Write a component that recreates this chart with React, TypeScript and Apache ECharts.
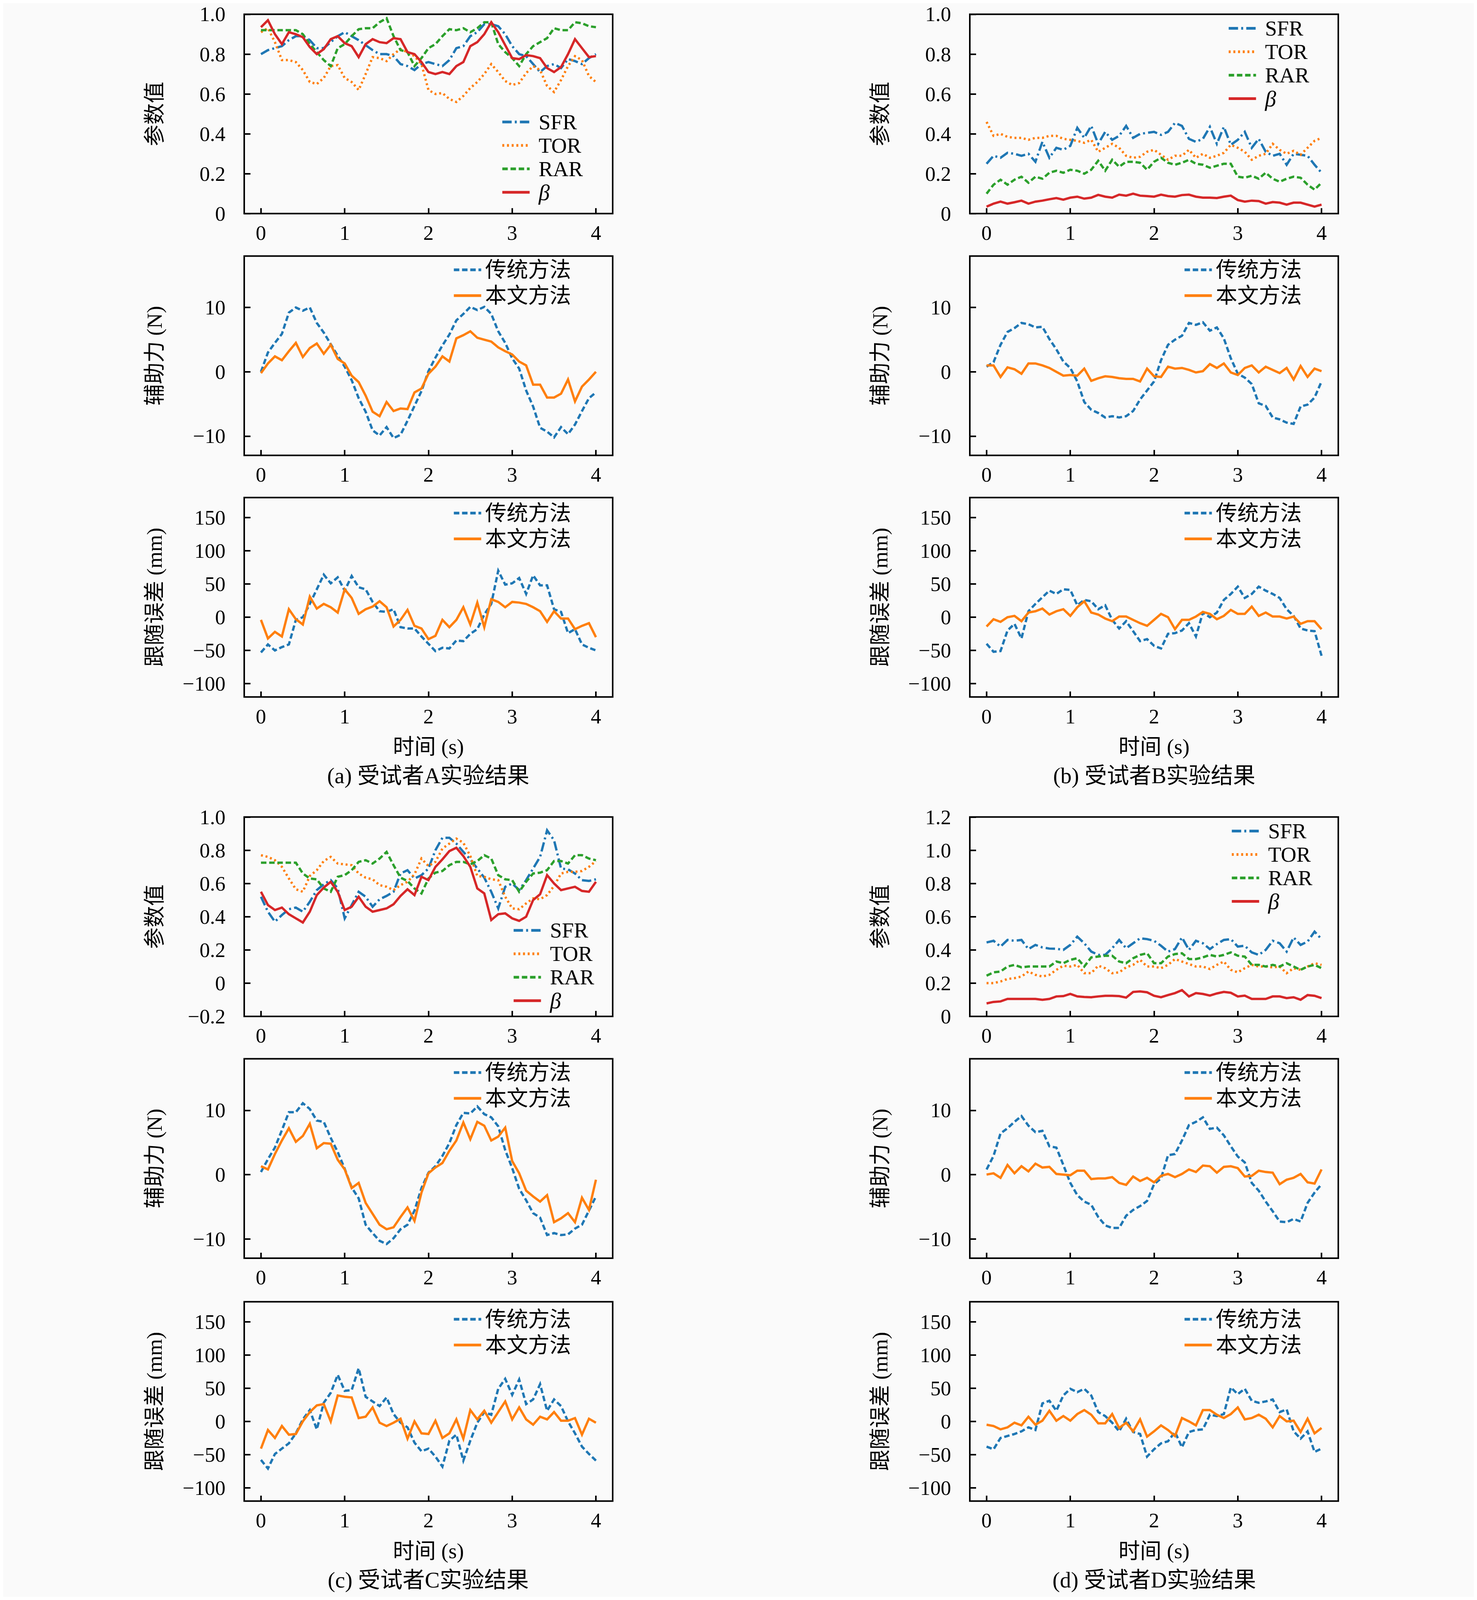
import React, { useEffect, useRef } from "react";
import * as echarts from "echarts";

// ---------- data ----------
const T = [0, 0.0833, 0.1667, 0.25, 0.3333, 0.4167, 0.5, 0.5833, 0.6667, 0.75, 0.8333, 0.9167, 1, 1.0833, 1.1667, 1.25, 1.3333, 1.4167, 1.5, 1.5833, 1.6667, 1.75, 1.8333, 1.9167, 2, 2.0833, 2.1667, 2.25, 2.3333, 2.4167, 2.5, 2.5833, 2.6667, 2.75, 2.8333, 2.9167, 3, 3.0833, 3.1667, 3.25, 3.3333, 3.4167, 3.5, 3.5833, 3.6667, 3.75, 3.8333, 3.9167, 4];
const X_TICKS = [0, 1, 2, 3, 4];

const PARAM_NAMES = ["SFR", "TOR", "RAR", "β"];
const METHOD_NAMES = ["传统方法", "本文方法"];

// subject A
const aSFR = [0.80, 0.82, 0.83, 0.84, 0.87, 0.89, 0.89, 0.87, 0.83, 0.83, 0.86, 0.89, 0.91, 0.89, 0.87, 0.845, 0.82, 0.80, 0.80, 0.79, 0.75, 0.74, 0.72, 0.75, 0.76, 0.75, 0.74, 0.77, 0.83, 0.84, 0.89, 0.91, 0.95, 0.95, 0.94, 0.90, 0.84, 0.80, 0.79, 0.75, 0.71, 0.74, 0.75, 0.73, 0.775, 0.765, 0.75, 0.78, 0.80];
const aTOR = [0.91, 0.93, 0.86, 0.77, 0.77, 0.76, 0.72, 0.66, 0.65, 0.68, 0.74, 0.745, 0.68, 0.66, 0.62, 0.70, 0.785, 0.78, 0.765, 0.80, 0.825, 0.81, 0.79, 0.75, 0.62, 0.60, 0.605, 0.575, 0.56, 0.59, 0.63, 0.66, 0.70, 0.75, 0.71, 0.665, 0.645, 0.655, 0.705, 0.74, 0.72, 0.64, 0.61, 0.67, 0.74, 0.79, 0.77, 0.69, 0.66];
const aRAR = [0.92, 0.92, 0.92, 0.92, 0.92, 0.92, 0.90, 0.85, 0.81, 0.77, 0.74, 0.83, 0.85, 0.89, 0.925, 0.93, 0.93, 0.96, 0.98, 0.89, 0.82, 0.81, 0.74, 0.78, 0.83, 0.85, 0.89, 0.925, 0.92, 0.93, 0.91, 0.93, 0.96, 0.96, 0.85, 0.81, 0.78, 0.74, 0.80, 0.84, 0.86, 0.88, 0.93, 0.92, 0.92, 0.96, 0.955, 0.94, 0.935];
const aBeta = [0.935, 0.97, 0.90, 0.85, 0.91, 0.90, 0.885, 0.835, 0.80, 0.825, 0.875, 0.89, 0.855, 0.84, 0.785, 0.85, 0.875, 0.86, 0.855, 0.88, 0.875, 0.81, 0.80, 0.76, 0.71, 0.70, 0.71, 0.70, 0.74, 0.76, 0.84, 0.86, 0.90, 0.96, 0.91, 0.845, 0.78, 0.775, 0.795, 0.79, 0.78, 0.73, 0.71, 0.735, 0.80, 0.875, 0.83, 0.785, 0.79];
const aForceOld = [0, 3.0, 4.5, 5.9, 9.2, 10.0, 9.5, 10.0, 7.6, 6.1, 4.3, 2.5, 0.8, -1.3, -4.1, -6.2, -9.1, -9.9, -8.6, -10.3, -9.8, -7.6, -5.3, -3.0, 0.1, 2.2, 4.1, 5.8, 8.0, 9.0, 10.1, 9.6, 10.1, 9.0, 6.3, 4.5, 2.1, 0.5, -2.9, -5.4, -8.7, -9.3, -10.2, -8.6, -9.7, -8.2, -6.1, -4.1, -3.2];
const aForceNew = [-0.2, 1.3, 2.4, 1.8, 3.2, 4.5, 2.3, 3.7, 4.4, 2.8, 4.2, 2.0, 1.3, -0.6, -1.6, -3.7, -6.2, -6.9, -4.7, -6.1, -5.7, -5.8, -3.2, -2.6, -0.3, 0.8, 2.4, 1.6, 5.2, 5.7, 6.3, 5.3, 5.0, 4.7, 3.8, 3.2, 2.7, 1.6, 1.0, -2.0, -2.0, -4.0, -4.0, -3.4, -1.2, -4.6, -2.3, -1.2, 0];
const aErrOld = [-53, -41, -50, -45, -41, -4, 0, 20, 42, 64, 51, 60, 40, 62, 45, 42, 23, 9, 8, 12, -15, -17, -17, -29, -40, -51, -46, -47, -35, -36, -25, -18, 4, 20, 70, 49, 51, 59, 35, 63, 48, 48, 12, 8, -24, -18, -41, -46, -50];
const aErrNew = [-4, -32, -22, -29, 12, -3, -11, 31, 13, 20, 15, 7, 42, 29, 5, 12, 16, 24, 15, -14, -4, 11, -13, -17, -33, -28, -4, -15, -4, 15, -11, 22, -15, 27, 23, 15, 23, 22, 20, 15, 9, -7, 9, -2, -2, -18, -13, -9, -30];

// subject B
const bSFR = [0.25, 0.29, 0.28, 0.305, 0.30, 0.29, 0.30, 0.26, 0.36, 0.28, 0.33, 0.32, 0.34, 0.43, 0.38, 0.44, 0.35, 0.41, 0.37, 0.39, 0.44, 0.38, 0.40, 0.405, 0.41, 0.395, 0.41, 0.455, 0.44, 0.375, 0.36, 0.375, 0.435, 0.35, 0.435, 0.345, 0.37, 0.41, 0.33, 0.375, 0.31, 0.29, 0.30, 0.245, 0.30, 0.295, 0.29, 0.245, 0.205];
const bTOR = [0.46, 0.39, 0.40, 0.385, 0.38, 0.38, 0.37, 0.38, 0.38, 0.39, 0.39, 0.375, 0.37, 0.365, 0.355, 0.37, 0.31, 0.33, 0.35, 0.33, 0.29, 0.28, 0.285, 0.31, 0.32, 0.295, 0.27, 0.29, 0.29, 0.32, 0.28, 0.30, 0.28, 0.29, 0.305, 0.345, 0.33, 0.31, 0.27, 0.29, 0.30, 0.35, 0.32, 0.30, 0.315, 0.295, 0.33, 0.365, 0.38];
const bRAR = [0.10, 0.145, 0.17, 0.145, 0.17, 0.185, 0.155, 0.185, 0.175, 0.205, 0.215, 0.205, 0.22, 0.215, 0.20, 0.22, 0.265, 0.215, 0.27, 0.235, 0.26, 0.26, 0.255, 0.22, 0.26, 0.28, 0.255, 0.245, 0.255, 0.27, 0.25, 0.245, 0.23, 0.24, 0.25, 0.25, 0.185, 0.18, 0.19, 0.175, 0.205, 0.175, 0.16, 0.175, 0.185, 0.18, 0.145, 0.12, 0.155];
const bBeta = [0.035, 0.05, 0.06, 0.05, 0.057, 0.065, 0.05, 0.06, 0.065, 0.072, 0.078, 0.07, 0.08, 0.085, 0.075, 0.08, 0.094, 0.085, 0.08, 0.095, 0.09, 0.10, 0.09, 0.088, 0.085, 0.095, 0.088, 0.085, 0.093, 0.095, 0.085, 0.08, 0.08, 0.078, 0.085, 0.09, 0.068, 0.06, 0.065, 0.063, 0.05, 0.058, 0.055, 0.045, 0.055, 0.055, 0.045, 0.035, 0.045];
const bForceOld = [0.8, 1.5, 4.2, 6.2, 6.8, 7.6, 7.4, 6.9, 7.0, 5.1, 3.5, 1.6, 0.6, -1.5, -4.7, -5.9, -6.4, -7.1, -6.9, -7.1, -6.9, -6.1, -4.3, -2.9, -1.5, 1.8, 4.2, 5.0, 5.6, 7.6, 7.3, 7.7, 6.4, 6.9, 5.2, 2.1, -0.3, -0.9, -1.9, -4.9, -5.3, -7.1, -7.4, -7.9, -8.1, -5.4, -5.1, -4.0, -1.5];
const bForceNew = [1, 1, -0.8, 0.7, 0.4, -0.3, 1.3, 1.3, 1, 0.6, 0, -0.6, -0.5, -0.6, 0.5, -1.4, -1, -0.7, -0.8, -1, -1.1, -1.1, -1.5, 0.5, -0.7, -0.8, 0.8, 0.5, 0.6, 0.3, -0.1, 0.1, 1.2, 0.6, 1.3, -0.1, -0.5, 0.6, 1, -0.1, 0.8, 0.3, -0.2, 0.6, -1.2, 0.9, -0.8, 0.5, 0.1];
const bErrOld = [-40, -52, -51, -20, -10, -32, 9, 20, 30, 40, 35, 42, 41, 18, 26, 24, 12, 18, -4, -17, -6, -21, -36, -33, -43, -47, -25, -24, -20, -9, -29, 7, 0, 7, 26, 35, 46, 29, 35, 46, 40, 35, 29, 12, 2, -17, -20, -21, -58];
const bErrNew = [-14, -3, -7, 0, 2, -6, 7, 9, 13, 4, 9, 12, 2, 15, 24, 7, 4, -2, -6, 1, 1, -4, -9, -13, -4, 5, 0, -18, -4, -4, 1, 8, 5, -3, 2, 11, 5, 5, 16, 2, 7, 1, 1, -2, 1, -10, -6, -6, -18];

// subject C
const cSFR = [0.52, 0.43, 0.37, 0.41, 0.445, 0.455, 0.43, 0.49, 0.56, 0.595, 0.62, 0.57, 0.39, 0.47, 0.55, 0.52, 0.46, 0.505, 0.525, 0.55, 0.66, 0.68, 0.63, 0.65, 0.69, 0.80, 0.875, 0.875, 0.84, 0.79, 0.745, 0.69, 0.635, 0.55, 0.45, 0.58, 0.60, 0.56, 0.62, 0.69, 0.76, 0.92, 0.86, 0.69, 0.685, 0.66, 0.62, 0.615, 0.625];
const cTOR = [0.77, 0.76, 0.74, 0.70, 0.63, 0.565, 0.55, 0.645, 0.68, 0.735, 0.76, 0.72, 0.715, 0.71, 0.66, 0.635, 0.625, 0.59, 0.58, 0.56, 0.59, 0.61, 0.655, 0.75, 0.705, 0.73, 0.81, 0.84, 0.87, 0.845, 0.765, 0.645, 0.64, 0.625, 0.62, 0.52, 0.45, 0.445, 0.48, 0.51, 0.505, 0.53, 0.585, 0.66, 0.67, 0.67, 0.675, 0.70, 0.735];
const cRAR = [0.725, 0.725, 0.725, 0.725, 0.725, 0.725, 0.66, 0.63, 0.625, 0.57, 0.55, 0.64, 0.65, 0.68, 0.73, 0.74, 0.72, 0.75, 0.79, 0.71, 0.635, 0.615, 0.57, 0.54, 0.63, 0.665, 0.675, 0.71, 0.73, 0.73, 0.715, 0.735, 0.77, 0.75, 0.65, 0.625, 0.62, 0.55, 0.61, 0.66, 0.665, 0.68, 0.735, 0.735, 0.72, 0.77, 0.77, 0.75, 0.74];
const cBeta = [0.55, 0.47, 0.44, 0.455, 0.415, 0.39, 0.365, 0.43, 0.53, 0.575, 0.61, 0.55, 0.44, 0.46, 0.52, 0.46, 0.43, 0.44, 0.45, 0.475, 0.525, 0.565, 0.53, 0.64, 0.62, 0.70, 0.745, 0.795, 0.815, 0.765, 0.70, 0.57, 0.54, 0.38, 0.415, 0.42, 0.39, 0.375, 0.40, 0.50, 0.535, 0.65, 0.60, 0.56, 0.57, 0.58, 0.555, 0.55, 0.61];
const cForceOld = [0.4, 2.4, 4.2, 6.9, 9.7, 9.7, 11.1, 10.2, 8.4, 8.2, 5.7, 3.5, 0.9, -2.0, -3.7, -7.8, -9.1, -10.3, -10.8, -9.9, -8.5, -7.8, -5.6, -2.1, 0.3, 1.3, 2.9, 4.9, 7.7, 9.6, 9.5, 10.6, 9.4, 8.9, 7.5, 3.8, 1.0, -2.2, -4.0, -6.0, -6.7, -9.4, -9.1, -9.4, -9.3, -8.4, -7.8, -5.6, -3.4];
const cForceNew = [1.3, 0.8, 3.2, 5.3, 7.2, 5.1, 6, 7.9, 4.1, 4.9, 4.8, 2.3, 0.8, -2.1, -1.3, -4.4, -6.1, -7.8, -8.5, -8.2, -6.6, -5.1, -7.2, -2.8, 0.2, 1.1, 1.8, 3.7, 5.3, 8.1, 5.5, 8.2, 7.6, 5.3, 5.9, 7.3, 2.1, 0.2, -2.5, -3.4, -4.2, -3.2, -7.4, -6.8, -6, -7.4, -3.6, -5.5, -0.8];
const cErrOld = [-58, -71, -49, -41, -33, -18, 3, 17, -12, 28, 43, 70, 46, 47, 80, 37, 30, 23, 36, 11, -2, -9, -32, -45, -41, -53, -68, -29, -20, -59, -29, -2, 14, 10, 49, 64, 40, 63, 26, 33, 56, 16, 33, 23, 0, -18, -38, -49, -59];
const cErrNew = [-41, -13, -25, -7, -20, -19, 0, 14, 24, 26, 0, 39, 37, 36, 5, 7, 21, -2, -7, -2, 4, -26, 0, -18, -19, 1, -25, -18, 3, -26, 17, 3, 16, -2, 14, 30, 3, 21, 3, -5, 7, 3, 14, 1, 1, 5, -20, 4, -2];

// subject D
const dSFR = [0.445, 0.455, 0.42, 0.46, 0.455, 0.46, 0.405, 0.43, 0.415, 0.408, 0.407, 0.40, 0.43, 0.48, 0.44, 0.39, 0.37, 0.37, 0.41, 0.46, 0.41, 0.44, 0.47, 0.465, 0.455, 0.425, 0.39, 0.405, 0.475, 0.40, 0.455, 0.44, 0.405, 0.435, 0.46, 0.465, 0.42, 0.425, 0.385, 0.37, 0.40, 0.455, 0.44, 0.39, 0.475, 0.43, 0.45, 0.51, 0.465];
const dTOR = [0.20, 0.20, 0.21, 0.225, 0.23, 0.24, 0.27, 0.25, 0.24, 0.25, 0.28, 0.305, 0.30, 0.31, 0.26, 0.26, 0.305, 0.29, 0.26, 0.265, 0.295, 0.31, 0.34, 0.30, 0.30, 0.29, 0.31, 0.345, 0.33, 0.315, 0.30, 0.30, 0.285, 0.31, 0.33, 0.28, 0.265, 0.29, 0.31, 0.30, 0.30, 0.295, 0.30, 0.26, 0.29, 0.28, 0.30, 0.32, 0.31];
const dRAR = [0.245, 0.265, 0.27, 0.30, 0.31, 0.295, 0.30, 0.30, 0.30, 0.30, 0.33, 0.32, 0.34, 0.35, 0.30, 0.355, 0.36, 0.365, 0.365, 0.33, 0.32, 0.35, 0.37, 0.38, 0.32, 0.32, 0.36, 0.375, 0.38, 0.345, 0.345, 0.355, 0.37, 0.36, 0.37, 0.385, 0.365, 0.36, 0.31, 0.31, 0.30, 0.31, 0.30, 0.32, 0.30, 0.28, 0.30, 0.31, 0.29];
const dBeta = [0.078, 0.087, 0.09, 0.105, 0.105, 0.105, 0.105, 0.105, 0.10, 0.105, 0.12, 0.122, 0.135, 0.12, 0.117, 0.115, 0.12, 0.124, 0.124, 0.122, 0.113, 0.147, 0.15, 0.145, 0.124, 0.115, 0.128, 0.14, 0.158, 0.12, 0.14, 0.135, 0.125, 0.138, 0.147, 0.142, 0.12, 0.125, 0.105, 0.105, 0.105, 0.12, 0.12, 0.11, 0.115, 0.10, 0.128, 0.124, 0.11];
const dForceOld = [0.8, 2.9, 6.4, 7.2, 8.2, 9.1, 7.6, 6.6, 6.8, 4.4, 4.2, 1.5, -1.3, -3.2, -4.2, -4.7, -6.6, -7.9, -8.3, -8.3, -6.4, -5.5, -4.9, -4.1, -1.5, -0.6, 3, 3.2, 5.3, 7.7, 8.2, 8.9, 7.1, 7.3, 6.1, 4.4, 2.8, 1.9, -1.3, -2.5, -4.2, -5.7, -7.3, -7.4, -6.9, -7.3, -4.4, -2.8, -1.5];
const dForceNew = [0, 0.2, -0.5, 1.5, 0.2, 1.3, 0.5, 1.7, 1.1, 1.2, 0.1, 0, -0.1, 0.6, 0.6, -0.7, -0.6, -0.6, -0.4, -1.3, -1.6, -0.3, -1, -0.5, -1.2, -0.2, 0.1, -0.4, 0.1, 0.8, 0.4, 1.4, 1.3, 0.3, 1.2, 1.3, 1, -0.3, -0.2, 0.6, 0.4, 0.3, -1.5, -0.8, -0.5, 0.1, -1.2, -1.4, 0.8];
const dErrOld = [-38, -42, -25, -22, -19, -15, -9, -13, 27, 31, 16, 39, 49, 44, 49, 39, 14, 8, -2, -15, 4, -16, -19, -53, -42, -33, -30, -16, -39, -16, -13, -12, 10, 8, 11, 51, 41, 49, 31, 28, 30, 33, 14, 18, -15, -26, -15, -46, -41];
const dErrNew = [-5, -7, -12, -9, -2, -6, 7, -5, 1, 16, 1, 8, 1, 11, 17, 10, -3, -3, 11, -10, -2, -15, 3, -23, -15, -6, -13, -22, 5, 0, -6, 17, 17, 10, 5, 11, 21, 3, 5, 10, 4, -9, 8, 0, 1, -16, 4, -18, -10];

// axis ranges / ticks
const PARAM_TICKS_AB = [0, 0.2, 0.4, 0.6, 0.8, 1.0];
const PARAM_TICKS_C = [-0.2, 0, 0.2, 0.4, 0.6, 0.8, 1.0];
const PARAM_TICKS_D = [0, 0.2, 0.4, 0.6, 0.8, 1.0, 1.2];
const FORCE_TICKS = [-10, 0, 10];
const ERR_TICKS = [-100, -50, 0, 50, 100, 150];

const CAPTIONS = ["(a) 受试者A实验结果", "(b) 受试者B实验结果", "(c) 受试者C实验结果", "(d) 受试者D实验结果"];
const Y_NAMES = { param: "参数值", force: "辅助力 (N)", err: "跟随误差 (mm)" };
const X_NAME = "时间 (s)";

// ---------- styles / layout (reference coordinates, 3780 x 5657) ----------
const REF_W = 3780;
const REF_H = 5657;
const FONT = "'Liberation Serif', 'Noto Sans CJK SC', serif";
const COLORS = { blue: "#1f77b4", orange: "#ff7f0e", green: "#2ca02c", red: "#d62728" };
const LW = 6;
const STYLE: Record<string, { color: string; type: any }> = {
  SFR: { color: COLORS.blue, type: [24, 8, 5, 8] },
  TOR: { color: COLORS.orange, type: [5, 7] },
  RAR: { color: COLORS.green, type: [14, 7] },
  "β": { color: COLORS.red, type: "solid" },
  "传统方法": { color: COLORS.blue, type: [14, 7] },
  "本文方法": { color: COLORS.orange, type: "solid" },
};

const COL_LEFT = [625, 2482];
const ROW_TOP = [34, 894, 1753, 2889, 3749, 4613];
const GW = 943;
const GH = 709;
const CAPTION_POS = [
  [1096, 2741],
  [2954, 2741],
  [1096, 5602],
  [2954, 5602],
];

type Panel = {
  col: number;
  row: number;
  kind: "param" | "force" | "err";
  yMin: number;
  yMax: number;
  ticks: number[];
  series: number[][];
  legend: [number, number]; // left x, centre y of first legend item
};

const PANELS: Panel[] = [
  { col: 0, row: 0, kind: "param", yMin: 0, yMax: 1, ticks: PARAM_TICKS_AB, series: [aSFR, aTOR, aRAR, aBeta], legend: [1282, 417] },
  { col: 1, row: 0, kind: "param", yMin: 0, yMax: 1, ticks: PARAM_TICKS_AB, series: [bSFR, bTOR, bRAR, bBeta], legend: [3141, 84] },
  { col: 0, row: 1, kind: "force", yMin: -13, yMax: 18, ticks: FORCE_TICKS, series: [aForceOld, aForceNew], legend: [1158, 943] },
  { col: 1, row: 1, kind: "force", yMin: -13, yMax: 18, ticks: FORCE_TICKS, series: [bForceOld, bForceNew], legend: [3028, 943] },
  { col: 0, row: 2, kind: "err", yMin: -120, yMax: 180, ticks: ERR_TICKS, series: [aErrOld, aErrNew], legend: [1158, 1808] },
  { col: 1, row: 2, kind: "err", yMin: -120, yMax: 180, ticks: ERR_TICKS, series: [bErrOld, bErrNew], legend: [3028, 1808] },
  { col: 0, row: 3, kind: "param", yMin: -0.2, yMax: 1.0, ticks: PARAM_TICKS_C, series: [cSFR, cTOR, cRAR, cBeta], legend: [1311, 3292] },
  { col: 1, row: 3, kind: "param", yMin: 0, yMax: 1.2, ticks: PARAM_TICKS_D, series: [dSFR, dTOR, dRAR, dBeta], legend: [3149, 2939] },
  { col: 0, row: 4, kind: "force", yMin: -13, yMax: 18, ticks: FORCE_TICKS, series: [cForceOld, cForceNew], legend: [1158, 3798] },
  { col: 1, row: 4, kind: "force", yMin: -13, yMax: 18, ticks: FORCE_TICKS, series: [dForceOld, dForceNew], legend: [3028, 3798] },
  { col: 0, row: 5, kind: "err", yMin: -120, yMax: 180, ticks: ERR_TICKS, series: [cErrOld, cErrNew], legend: [1158, 4675] },
  { col: 1, row: 5, kind: "err", yMin: -120, yMax: 180, ticks: ERR_TICKS, series: [dErrOld, dErrNew], legend: [3028, 4675] },
];

const minus = (s: string) => s.replace("-", "\u2212");

function buildOption(height: number) {
  // vertical scale (plus a small top offset) so the whole figure fits the visible page height
  const TOP_PAD = height < REF_H ? 12 : 0;
  const SY = Math.min(1, (height - 2 * TOP_PAD) / REF_H);
  const FS = (1 + SY) / 2;
  const Y = (v: number) => TOP_PAD + v * SY;
  const D = (v: number) => v * SY;
  const tickFS = Math.round(62 * FS);
  const nameFS = Math.round(64 * FS);
  const legFS = Math.round(64 * FS);
  const capFS = Math.round(66 * FS);

  const grid: any[] = [];
  const xAxis: any[] = [];
  const yAxis: any[] = [];
  const series: any[] = [];
  const legend: any[] = [];

  PANELS.forEach((p, i) => {
    grid.push({
      left: COL_LEFT[p.col],
      top: Y(ROW_TOP[p.row]),
      width: GW,
      height: D(GH),
      show: true,
      borderColor: "#000",
      borderWidth: 4,
      backgroundColor: "transparent",
      containLabel: false,
    });
    const isBottom = p.row === 2 || p.row === 5;
    xAxis.push({
      type: "value",
      gridIndex: i,
      position: "bottom",
      min: -0.2,
      max: 4.2,
      axisLine: { show: false, onZero: false },
      splitLine: { show: false },
      axisTick: { show: true, inside: true, length: Math.round(16 * FS), lineStyle: { color: "#000", width: 4 }, customValues: X_TICKS },
      axisLabel: {
        show: true,
        margin: Math.round(D(69) - tickFS / 2),
        color: "#000",
        fontSize: tickFS,
        fontFamily: FONT,
        customValues: X_TICKS,
        formatter: (v: number) => String(v),
      },
      name: isBottom ? X_NAME : "",
      nameLocation: "middle",
      nameGap: Math.round(D(177) - nameFS / 2),
      nameTextStyle: { color: "#000", fontSize: nameFS, fontFamily: FONT },
    });
    yAxis.push({
      type: "value",
      gridIndex: i,
      position: "left",
      min: p.yMin,
      max: p.yMax,
      axisLine: { show: false, onZero: false },
      splitLine: { show: false },
      axisTick: { show: true, inside: true, length: 16, lineStyle: { color: "#000", width: 4 }, customValues: p.ticks },
      axisLabel: {
        show: true,
        margin: 48,
        color: "#000",
        fontSize: tickFS,
        fontFamily: FONT,
        customValues: p.ticks,
        formatter: (v: number) =>
          p.kind === "param" ? (v === 0 ? "0" : minus(v.toFixed(1))) : minus(String(Math.round(v))),
      },
      name: Y_NAMES[p.kind],
      nameLocation: "middle",
      nameRotate: 90,
      nameGap: Math.round(229 - nameFS / 2),
      nameTextStyle: { color: "#000", fontSize: nameFS, fontFamily: FONT },
    });
    const names = p.kind === "param" ? PARAM_NAMES : METHOD_NAMES;
    names.forEach((n, j) => {
      const st = STYLE[n];
      series.push({
        type: "line",
        name: n,
        xAxisIndex: i,
        yAxisIndex: i,
        data: T.map((t, k) => [t, p.series[j][k]]),
        symbol: "none",
        showSymbol: false,
        smooth: false,
        z: 2 + j,
        itemStyle: { color: st.color },
        lineStyle: { color: st.color, width: LW, type: st.type, cap: "butt", join: "miter" },
      });
    });
    const isParam = p.kind === "param";
    const step = Math.round(D(isParam ? 84 : 91));
    legend.push({
      show: true,
      orient: "vertical",
      left: p.legend[0],
      top: Y(p.legend[1]) - step / 2,
      padding: 0,
      itemWidth: 70,
      itemHeight: 20,
      itemGap: 0,
      selectedMode: false,
      data: names,
      itemStyle: { opacity: 0, borderWidth: 0 },
      lineStyle: { width: 7 },
      formatter: (n: string) => (n === "β" ? "{it|β}" : n),
      textStyle: {
        color: "#000",
        fontSize: legFS,
        lineHeight: step,
        fontFamily: FONT,
        padding: [0, 0, 0, isParam ? 18 : 5],
        rich: { it: { fontStyle: "italic", fontSize: legFS + 2, lineHeight: step, fontFamily: FONT, color: "#000" } },
      },
    });
  });

  const graphic: any[] = CAPTIONS.map((c, i) => ({
    type: "text",
    x: CAPTION_POS[i][0],
    y: Y(CAPTION_POS[i][1]),
    style: {
      text: c,
      fill: "#000",
      fontSize: capFS,
      fontFamily: FONT,
      align: "center",
      verticalAlign: "middle",
      textAlign: "center",
      textVerticalAlign: "middle",
    },
  }));

  return {
    animation: false,
    backgroundColor: "#fafafa",
    textStyle: { fontFamily: FONT, color: "#000" },
    grid,
    xAxis,
    yAxis,
    series,
    legend,
    graphic,
  };
}

export default function App() {
  const ref = useRef<HTMLDivElement>(null);
  useEffect(() => {
    const el = ref.current;
    if (!el) return;
    const h = Math.min(REF_H, window.innerHeight || REF_H);
    el.style.height = `${h}px`;
    const chart = echarts.init(el, null, { renderer: "svg" });
    chart.setOption(buildOption(h) as any);
    return () => chart.dispose();
  }, []);
  return <div ref={ref} style={{ margin: "-8px", width: REF_W, height: REF_H, background: "#fafafa" }} />;
}
